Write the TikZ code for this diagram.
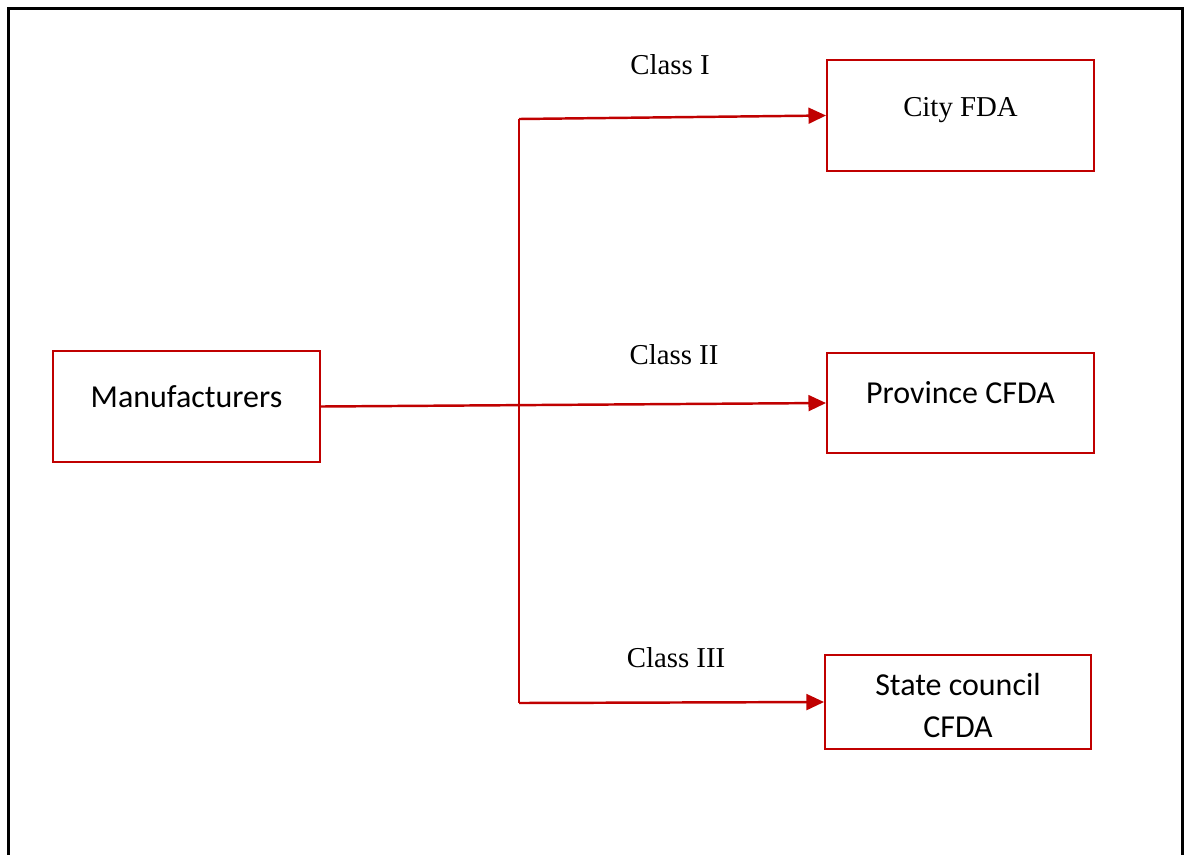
\documentclass[tikz,border=0pt]{standalone}
\usepackage{fontspec}
\setmainfont{Liberation Serif}
\newfontfamily\boxfont{Carlito}
\usetikzlibrary{arrows.meta}
\definecolor{fdared}{RGB}{192,0,0}
\newcommand{\lifted}[2]{\raisebox{#1}[\height][\depth]{#2}}
\tikzset{
  agency/.style={draw=fdared,line width=1.1pt,minimum width=5.34cm,inner sep=0pt,align=center,
    font=\boxfont\fontsize{18.2}{24}\selectfont},
  route/.style={draw=fdared,line width=1.4pt,-{Triangle[length=10pt,width=9pt]}},
  classlabel/.style={font=\fontsize{16.4}{19}\selectfont}
}
\begin{document}
\begin{tikzpicture}
    \useasboundingbox (0,0) rectangle (23.7,-17.08);
    \draw[line width=1.7pt] (0.17,-17.5) -- (0.17,-0.17) -- (23.65,-0.17) -- (23.65,-17.5);

    \node[agency,minimum height=2.22cm] (M) at (3.73,-8.13) {\lifted{0.2cm}{Manufacturers}};
    \node[agency,minimum height=2.22cm,font=\fontsize{16.4}{19}\selectfont] (C) at (19.21,-2.31) {\lifted{0.1cm}{City FDA}};
    \node[agency,minimum height=2.0cm] (P) at (19.21,-8.06) {\lifted{0.2cm}{Province CFDA}};
    \node[agency,minimum width=5.32cm,minimum height=1.88cm] (S) at (19.16,-14.04)
      {\lifted{-0.12cm}{\begin{tabular}{@{}c@{}}State council\\CFDA\end{tabular}}};

    \coordinate (top) at (10.38,-2.38);
    \coordinate (bot) at (10.38,-14.06);

    \node[classlabel] (L1) at (13.4,-1.3) {Class I};
    \node[classlabel] (L2) at (13.48,-7.1) {Class II};
    \node[classlabel] (L3) at (13.52,-13.16) {Class III};

    \draw[fdared,line width=0.8pt] (top) -- (bot);
    \path[route]
    (top) -- (C.west);
    \path[route]
    (M.east) -- (P.west);
    \path[route]
    (bot) -- (S.west);
\end{tikzpicture}
\end{document}
